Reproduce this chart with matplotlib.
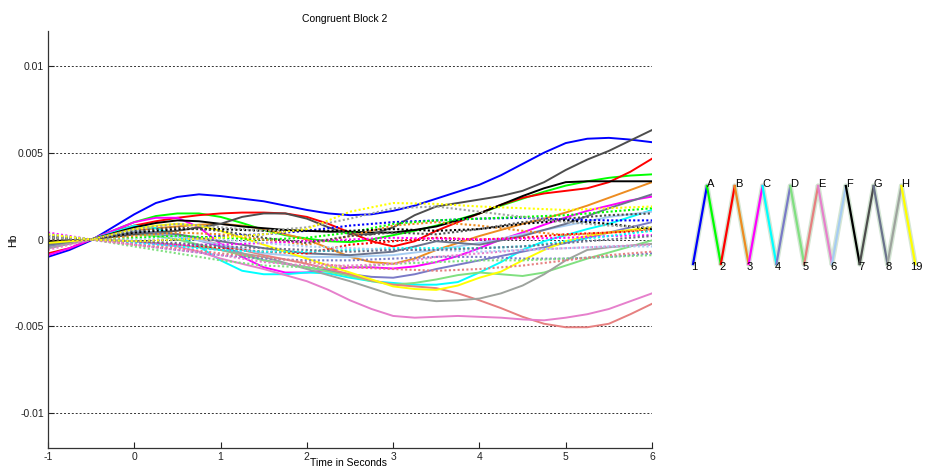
import numpy as np
import matplotlib
matplotlib.use('Agg')
import matplotlib.pyplot as plt

plt.rcParams['font.family'] = ['Liberation Sans', 'DejaVu Sans']

# time axes (s); HbO traces sampled every 0.25 s, HbR every 0.5 s, values in units of 1e-3
t_hbo = [-1, -0.75, -0.5, -0.25, 0, 0.25, 0.5, 0.75, 1, 1.25, 1.5, 1.75, 2, 2.25, 2.5,
         2.75, 3, 3.25, 3.5, 3.75, 4, 4.25, 4.5, 4.75, 5, 5.25, 5.5, 5.75, 6]
t_hbr = [-1, -0.5, 0, 0.5, 1, 1.5, 2, 2.5, 3, 3.5, 4, 4.5, 5, 5.5, 6]

channels = ['1-A', 'A-2', '2-B', 'B-3', '3-C', 'C-4', '4-D', 'D-5',
            '5-E', 'E-6', '6-F', 'F-7', '7-G', 'G-8', '8-H', 'H-19']

hbo = [
    [-1.0, -0.6, -0.05, 0.7, 1.45, 2.1, 2.45, 2.6, 2.5, 2.35, 2.2, 1.95, 1.7, 1.5, 1.4,
     1.45, 1.65, 1.95, 2.35, 2.75, 3.15, 3.7, 4.35, 5.0, 5.55, 5.8, 5.85, 5.75, 5.6],
    [-0.3, -0.2, 0.0, 0.5, 1.0, 1.35, 1.5, 1.5, 1.3, 0.95, 0.55, 0.25, 0.05, -0.1, -0.15,
     0.0, 0.25, 0.5, 0.8, 1.15, 1.5, 1.95, 2.35, 2.75, 3.1, 3.35, 3.55, 3.68, 3.75],
    [-0.8, -0.5, 0.0, 0.45, 0.8, 1.05, 1.25, 1.4, 1.5, 1.55, 1.55, 1.5, 1.3, 0.9, 0.4,
     -0.1, -0.4, -0.1, 0.5, 1.0, 1.5, 2.0, 2.4, 2.65, 2.8, 2.95, 3.3, 3.9, 4.65],
    [-0.2, -0.1, 0.0, 0.25, 0.5, 0.65, 0.75, 0.85, 0.9, 0.8, 0.6, 0.3, 0.0, -0.5, -1.0,
     -1.3, -1.4, -1.1, -0.6, -0.2, 0.2, 0.55, 0.9, 1.2, 1.55, 1.95, 2.4, 2.85, 3.3],
    [-0.9, -0.5, 0.0, 0.5, 1.0, 1.25, 1.25, 0.7, -0.25, -1.0, -1.6, -1.9, -1.9, -1.75, -1.6,
     -1.6, -1.67, -1.55, -1.3, -0.95, -0.5, 0.0, 0.4, 0.85, 1.27, 1.65, 1.95, 2.25, 2.47],
    [-0.3, -0.15, 0.0, 0.4, 0.8, 0.65, 0.2, -0.4, -1.2, -1.8, -2.0, -2.0, -1.9, -1.95, -2.2,
     -2.4, -2.5, -2.6, -2.6, -2.45, -1.9, -1.3, -0.6, -0.1, 0.25, 0.6, 0.9, 1.3, 1.7],
    [-0.4, -0.2, 0.0, 0.15, 0.3, 0.3, 0.2, -0.05, -0.4, -0.8, -1.2, -1.4, -1.6, -1.8, -2.0,
     -2.15, -2.2, -2.0, -1.7, -1.45, -1.2, -0.95, -0.7, -0.45, -0.2, 0.1, 0.4, 0.7, 1.0],
    [-0.3, -0.15, 0.0, 0.15, 0.3, 0.2, 0.0, -0.3, -0.6, -0.9, -1.2, -1.4, -1.6, -1.85, -2.1,
     -2.4, -2.6, -2.5, -2.3, -2.05, -1.9, -2.0, -2.1, -1.9, -1.5, -1.1, -0.75, -0.4, -0.05],
    [-0.2, -0.1, 0.0, 0.2, 0.4, 0.4, 0.3, 0.0, -0.3, -0.6, -0.9, -1.15, -1.4, -1.7, -2.0,
     -2.35, -2.6, -2.7, -2.8, -3.1, -3.5, -3.95, -4.45, -4.85, -5.05, -5.05, -4.85, -4.3, -3.7],
    [-0.5, -0.25, 0.0, -0.05, -0.1, -0.25, -0.4, -0.7, -1.1, -1.4, -1.7, -2.05, -2.4, -2.9, -3.5,
     -4.0, -4.4, -4.5, -4.45, -4.4, -4.45, -4.5, -4.6, -4.65, -4.5, -4.3, -4.0, -3.55, -3.1],
    [-0.2, -0.1, 0.0, 0.25, 0.5, 0.4, 0.2, -0.05, -0.3, -0.55, -0.8, -0.9, -1.0, -1.0, -1.0,
     -0.95, -0.9, -0.75, -0.6, -0.4, -0.2, 0.05, 0.3, 0.55, 0.8, 1.05, 1.3, 1.45, 1.6],
    [-0.1, -0.05, 0.0, 0.35, 0.7, 0.95, 1.1, 1.05, 0.9, 0.75, 0.65, 0.55, 0.5, 0.45, 0.45,
     0.4, 0.4, 0.55, 0.75, 1.1, 1.5, 2.0, 2.5, 2.95, 3.3, 3.35, 3.35, 3.35, 3.35],
    [-0.2, -0.1, 0.0, 0.15, 0.3, 0.4, 0.5, 0.7, 0.9, 1.3, 1.5, 1.5, 1.2, 0.7, 0.3,
     0.3, 0.7, 1.4, 1.9, 2.1, 2.3, 2.5, 2.8, 3.3, 4.0, 4.6, 5.1, 5.7, 6.3],
    [-0.3, -0.15, 0.0, 0.2, 0.4, 0.4, 0.3, 0.1, -0.1, -0.3, -0.5, -0.65, -0.8, -0.85, -0.9,
     -0.8, -0.7, -0.4, -0.1, -0.2, -0.3, -0.05, 0.2, 0.55, 0.9, 1.35, 1.8, 2.2, 2.6],
    [-0.5, -0.25, 0.0, -0.05, -0.1, -0.2, -0.3, -0.45, -0.6, -0.8, -1.0, -1.35, -1.7, -2.05, -2.4,
     -2.8, -3.2, -3.4, -3.55, -3.5, -3.4, -3.1, -2.65, -2.0, -1.2, -0.6, -0.45, -0.35, -0.25],
    [-0.2, -0.1, 0.0, 0.3, 0.6, 0.8, 0.9, 0.8, 0.5, 0.1, -0.3, -0.7, -1.1, -1.5, -1.9,
     -2.3, -2.7, -2.85, -2.9, -2.65, -2.2, -1.85, -1.2, -0.6, -0.1, 0.2, 0.4, 0.55, 0.7],
]

hbr = [
    [0.2, 0.0, -0.1, 0.0, 0.2, 0.3, 0.5, 0.8, 1.0, 1.1, 1.2, 1.25, 1.15, 1.1, 1.1],
    [0.1, 0.0, 0.1, 0.2, 0.1, 0.0, 0.1, 0.4, 0.9, 1.1, 1.2, 1.3, 1.4, 1.6, 1.8],
    [0.2, 0.0, -0.1, -0.3, -0.5, -0.7, -0.8, -0.3, -0.1, 0.1, 0.0, 0.1, 0.3, 0.4, 0.5],
    [0.0, 0.0, 0.2, 0.4, 0.3, 0.0, -0.3, 0.2, 0.8, 1.0, 0.8, 0.5, 0.25, 0.4, 0.6],
    [0.4, 0.0, -0.2, -0.3, -0.3, -0.2, -0.1, 0.0, 0.1, 0.05, 0.0, 0.05, 0.1, 0.2, 0.25],
    [0.3, 0.0, -0.2, -0.4, -0.6, -0.7, -0.7, -0.6, -0.5, -0.5, -0.5, -0.4, -0.1, 0.2, 0.5],
    [0.3, 0.0, -0.3, -0.6, -0.9, -1.1, -1.2, -1.2, -1.1, -1.0, -1.0, -1.1, -1.1, -1.0, -0.8],
    [0.2, 0.0, -0.4, -0.8, -1.2, -1.5, -1.6, -1.6, -1.4, -1.3, -1.2, -1.2, -1.1, -1.0, -0.9],
    [0.1, 0.0, -0.3, -0.5, -0.8, -1.0, -1.3, -1.6, -1.7, -1.8, -1.7, -1.5, -1.2, -0.9, -0.7],
    [-0.6, 0.0, -0.3, -0.6, -0.9, -1.3, -1.5, -1.5, -1.4, -1.0, -0.8, -0.6, -0.5, -0.4, -0.3],
    [0.3, 0.0, 0.0, 0.1, 0.0, -0.2, -0.4, -0.5, -0.6, -0.6, -0.7, -0.6, -0.5, -0.4, -0.4],
    [0.1, 0.0, 0.4, 0.6, 0.6, 0.5, 0.5, 0.5, 0.6, 0.5, 0.6, 0.9, 1.1, 0.9, 0.6],
    [0.0, 0.0, 0.5, 0.7, 0.5, 0.1, -0.2, 0.2, 0.4, 0.3, 0.6, 1.0, 1.2, 1.4, 1.5],
    [0.2, 0.0, -0.1, -0.2, -0.4, -0.5, -0.6, -0.7, -0.6, -0.6, -0.5, -0.4, -0.2, 0.0, 0.2],
    [0.1, 0.0, 0.6, 0.9, 0.7, 0.5, 0.7, 1.2, 1.8, 1.9, 1.6, 1.3, 1.0, 0.8, 0.7],
    [0.3, 0.0, -0.1, 0.0, 0.1, 0.3, 0.6, 1.6, 2.1, 2.05, 1.9, 1.8, 1.7, 1.8, 1.9],
]

colors = [(0, 0, 1), (0, 1, 0), (1, 0, 0), (0.93, 0.55, 0.13),
          (1, 0, 1), (0, 1, 1), (0.48, 0.48, 0.78), (0.5, 0.88, 0.5),
          (0.9, 0.5, 0.5), (0.9, 0.5, 0.8), (0.65, 0.8, 0.95), (0, 0, 0),
          (0.3, 0.3, 0.3), (0.42, 0.45, 0.55), (0.62, 0.64, 0.62), (1, 1, 0)]

yticks = [-0.01, -0.005, 0, 0.005, 0.01]
ytick_labels = ['-0.01', '-0.005', '0', '0.005', '0.01']
xticks = [-1, 0, 1, 2, 3, 4, 5, 6]

# optode layout: sources on top, detectors on bottom
sources = ['A', 'B', 'C', 'D', 'E', 'F', 'G', 'H']
detectors = ['1', '2', '3', '4', '5', '6', '7', '8', '19']

W, H = 925, 468
fig = plt.figure(figsize=(W / 100, H / 100), dpi=100)
ax = fig.add_axes([48 / W, 1 - 448 / H, (652 - 48) / W, (448 - 31) / H])

for k in range(len(channels)):
    ax.plot(np.array(t_hbo), np.array(hbo[k]) * 1e-3, color=colors[k], lw=1.4,
            solid_joinstyle='round')
for k in range(len(channels)):
    ax.plot(np.array(t_hbr), np.array(hbr[k]) * 1e-3, color=colors[k], lw=1.5,
            linestyle=(0, (1, 1.1)))

ax.set_xlim(-1, 6)
ax.set_ylim(-0.012, 0.012)
ax.set_xticks(xticks)
ax.set_xticklabels([str(v) for v in xticks], fontsize=7.5)
ax.set_yticks(yticks)
ax.set_yticklabels(ytick_labels, fontsize=7.5)
ax.tick_params(direction='in', length=4, width=0.8, colors='#222222', pad=3)
for s in ['top', 'right']:
    ax.spines[s].set_visible(False)
for s in ['left', 'bottom']:
    ax.spines[s].set_color('#333333')
    ax.spines[s].set_linewidth(0.9)
for y in yticks:
    ax.axhline(y, color='#333333', lw=0.7, linestyle=(0, (2, 2)), zorder=0)

fig.text(345 / W, 1 - 19 / H, 'Congruent Block 2', ha='center', va='center', fontsize=7.5)
fig.text(348 / W, 1 - 463 / H, 'Time in Seconds', ha='center', va='center', fontsize=7.5)
fig.text(13 / W, 1 - 240 / H, 'Hb', ha='center', va='center', fontsize=7.5, rotation=90)

# probe diagram
ax2 = fig.add_axes([680 / W, 1 - 280 / H, 245 / W, 110 / H])
ax2.set_xlim(-0.94, 16.7)
ax2.set_ylim(-0.205, 1.205)
ax2.axis('off')
for k in range(len(channels)):
    x0, x1 = k, k + 1
    y0, y1 = (0, 1) if k % 2 == 0 else (1, 0)
    ax2.plot([x0, x1], [y0, y1], color='#d4e6d4', lw=3.6, solid_capstyle='round', zorder=1)
    ax2.plot([x0, x1], [y0, y1], color=colors[k], lw=1.6, zorder=2)
for i, s in enumerate(sources):
    ax2.text(2 * i + 1, 1.03, s, ha='left', va='center', fontsize=8)
for i, d in enumerate(detectors):
    ax2.text(2 * i + 0.1, -0.04, d, ha='center', va='center', fontsize=8)

fig.savefig('out.png', dpi=100)
